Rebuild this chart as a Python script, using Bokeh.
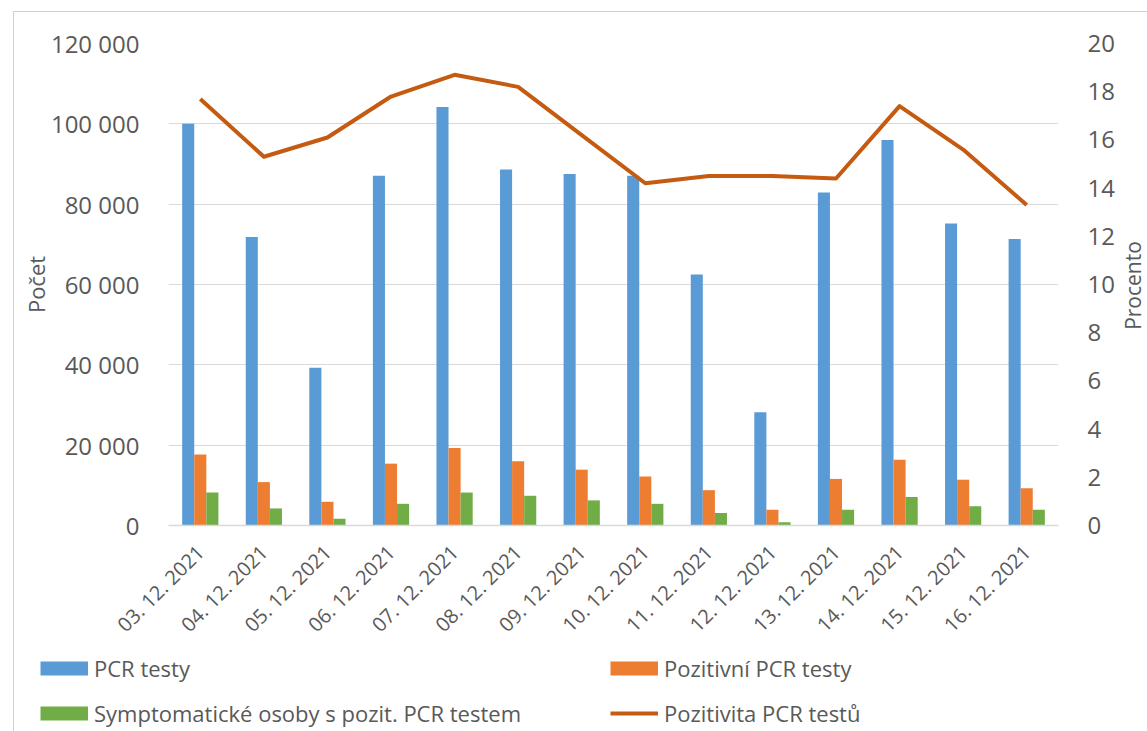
from math import pi
from bokeh.plotting import figure
from bokeh.layouts import column, row
from bokeh.models import (FactorRange, Range1d, LinearAxis, FixedTicker, CustomJSTickFormatter,
                          ColumnDataSource, Legend, LegendItem, Label)
from bokeh.transform import dodge
from bokeh.embed import file_html
from bokeh.resources import INLINE

# ---------------- data ----------------
dates = ["03. 12. 2021", "04. 12. 2021", "05. 12. 2021", "06. 12. 2021", "07. 12. 2021",
         "08. 12. 2021", "09. 12. 2021", "10. 12. 2021", "11. 12. 2021", "12. 12. 2021",
         "13. 12. 2021", "14. 12. 2021", "15. 12. 2021", "16. 12. 2021"]
pcr_tests = [100000, 71800, 39300, 87100, 104200, 88600, 87500, 87100, 62500, 28200,
             82900, 96000, 75200, 71300]
positive_tests = [17700, 10800, 5900, 15400, 19300, 16000, 13900, 12200, 8800, 3900,
                  11600, 16400, 11400, 9300]
symptomatic = [8200, 4250, 1700, 5400, 8200, 7400, 6250, 5400, 3100, 800,
               3900, 7100, 4800, 3900]
positivity = [17.7, 15.3, 16.1, 17.8, 18.7, 18.2, 16.2, 14.2, 14.5, 14.5, 14.4, 17.4, 15.6, 13.3]

left_ticks = [0, 20000, 40000, 60000, 80000, 100000, 120000]
right_ticks = [0, 2, 4, 6, 8, 10, 12, 14, 16, 18, 20]

names = ["PCR testy", "Pozitivní PCR testy",
         "Symptomatické osoby s pozit. PCR testem", "Pozitivita PCR testů"]
left_title = "Počet"
right_title = "Procento"

# ---------------- style ----------------
BLUE, ORANGE, GREEN, LINE = "#5B9BD5", "#ED7D31", "#70AD47", "#C55A11"
FONT = "Open Sans"
TEXT = "#595959"
GRID = "#d9d9d9"
BORDER = "#d0d0d0"

source = ColumnDataSource(dict(date=dates, pcr=pcr_tests, pos=positive_tests,
                               sym=symptomatic, rate=positivity))

W_MAIN = 1117      # main chart + legend strip
W_SIDE = 30        # strip holding the right axis title
H1 = 650           # chart
H2 = 81            # legend strip
H = H1 + H2

p = figure(x_range=FactorRange(*dates), y_range=Range1d(0, 120000),
           width=W_MAIN, height=H1, output_backend="svg", toolbar_location=None,
           min_border_left=168, min_border_right=W_MAIN - 1060, min_border_top=43,
           min_border_bottom=H1 - 525)
p.outline_line_color = None
p.background_fill_color = "white"
p.border_fill_alpha = 0
p.xgrid.grid_line_color = None
p.ygrid.grid_line_color = GRID
p.ygrid.grid_line_width = 1
p.x_range.range_padding = 0
p.styles = {
    "background-color": "white",
    "background-image": f"linear-gradient({BORDER},{BORDER}), linear-gradient({BORDER},{BORDER})",
    "background-size": "1px 100%, 100% 1px",
    "background-position": "13px 11px, 13px 11px",
    "background-repeat": "no-repeat",
}

bw = 0.19
p.vbar(x=dodge("date", -bw, range=p.x_range), top="pcr", width=bw, source=source,
       fill_color=BLUE, line_color=None)
p.vbar(x=dodge("date", 0, range=p.x_range), top="pos", width=bw, source=source,
       fill_color=ORANGE, line_color=None)
p.vbar(x=dodge("date", bw, range=p.x_range), top="sym", width=bw, source=source,
       fill_color=GREEN, line_color=None)

p.extra_y_ranges = {"pct": Range1d(0, 20)}
p.line(x="date", y="rate", source=source, y_range_name="pct",
       line_color=LINE, line_width=4, line_join="round")

# ---------------- axes ----------------
def plain_axis(ax, size):
    ax.axis_line_color = None
    ax.major_tick_line_color = None
    ax.minor_tick_line_color = None
    ax.major_tick_out = 0
    ax.major_tick_in = 0
    ax.minor_tick_out = 0
    ax.minor_tick_in = 0
    ax.major_label_text_font = FONT
    ax.major_label_text_font_size = size
    ax.major_label_text_color = TEXT


yl = p.yaxis[0]
plain_axis(yl, "24px")
yl.ticker = FixedTicker(ticks=left_ticks)
yl.formatter = CustomJSTickFormatter(
    code=r'return Math.round(tick).toString().replace(/\B(?=(\d{3})+(?!\d))/g, " ");')
yl.major_label_standoff = 29
yl.axis_label = left_title
yl.axis_label_text_font = FONT
yl.axis_label_text_font_size = "22px"
yl.axis_label_text_font_style = "normal"
yl.axis_label_text_color = TEXT
yl.axis_label_standoff = -3

yr = LinearAxis(y_range_name="pct", ticker=FixedTicker(ticks=right_ticks))
plain_axis(yr, "24px")
yr.major_label_standoff = 29
p.add_layout(yr, "right")

xa = p.xaxis[0]
plain_axis(xa, "20px")
xa.axis_line_color = GRID
xa.axis_line_width = 1.5
xa.major_label_orientation = pi / 4
xa.major_label_standoff = 23

# ---------------- legend strip ----------------
p2 = figure(x_range=Range1d(0, W_MAIN), y_range=Range1d(0, H2), width=W_MAIN, height=H2,
            output_backend="svg", toolbar_location=None,
            min_border_left=0, min_border_right=0, min_border_top=0, min_border_bottom=0)
p2.axis.visible = False
p2.grid.grid_line_color = None
p2.outline_line_color = None
p2.background_fill_alpha = 0
p2.border_fill_alpha = 0
p2.styles = {
    "background-color": "white",
    "background-image": f"linear-gradient({BORDER},{BORDER})",
    "background-size": "1px 100%",
    "background-position": "13px 0px",
    "background-repeat": "no-repeat",
}

# swatch renderers, kept outside the visible range of the legend strip
s_blue = p2.line(x=[-50, -40], y=[-50, -50], line_color=BLUE, line_width=14)
s_orange = p2.line(x=[-50, -40], y=[-50, -50], line_color=ORANGE, line_width=14)
s_green = p2.line(x=[-50, -40], y=[-50, -50], line_color=GREEN, line_width=14)
s_line = p2.line(x=[-50, -40], y=[-50, -50], line_color=LINE, line_width=4)


def make_legend(items, loc):
    lg = Legend(items=items, location=loc, orientation="vertical")
    lg.glyph_width = 48
    lg.glyph_height = 30
    lg.label_height = 30
    lg.spacing = 15
    lg.padding = 0
    lg.margin = 0
    lg.label_standoff = 6
    lg.border_line_color = None
    lg.background_fill_alpha = 0
    lg.label_text_font = FONT
    lg.label_text_font_size = "22px"
    lg.label_text_color = TEXT
    return lg


leg1 = make_legend([LegendItem(label=names[0], renderers=[s_blue]),
                    LegendItem(label=names[2], renderers=[s_green])], (40, 3))
leg2 = make_legend([LegendItem(label=names[1], renderers=[s_orange]),
                    LegendItem(label=names[3], renderers=[s_line])], (610, 3))
p2.add_layout(leg1)
p2.add_layout(leg2)

# ---------------- right strip with the secondary axis title ----------------
p3 = figure(x_range=Range1d(0, W_SIDE), y_range=Range1d(0, H), width=W_SIDE, height=H,
            output_backend="svg", toolbar_location=None,
            min_border_left=0, min_border_right=0, min_border_top=0, min_border_bottom=0)
p3.axis.visible = False
p3.grid.grid_line_color = None
p3.outline_line_color = None
p3.background_fill_alpha = 0
p3.border_fill_alpha = 0
p3.styles = {
    "background-color": "white",
    "background-image": f"linear-gradient({BORDER},{BORDER})",
    "background-size": "100% 1px",
    "background-position": "0px 11px",
    "background-repeat": "no-repeat",
}
p3.add_layout(Label(x=15, y=H - 285, text=right_title, angle=pi / 2,
                    text_align="center", text_baseline="middle",
                    text_font=FONT, text_font_size="21px", text_color=TEXT))

for fig in (p, p2, p3):
    try:
        fig.frame_align = False
    except Exception:
        pass

layout = row(column(p, p2, spacing=0), p3, spacing=0)
open("out.html", "w").write(file_html(layout, INLINE))
